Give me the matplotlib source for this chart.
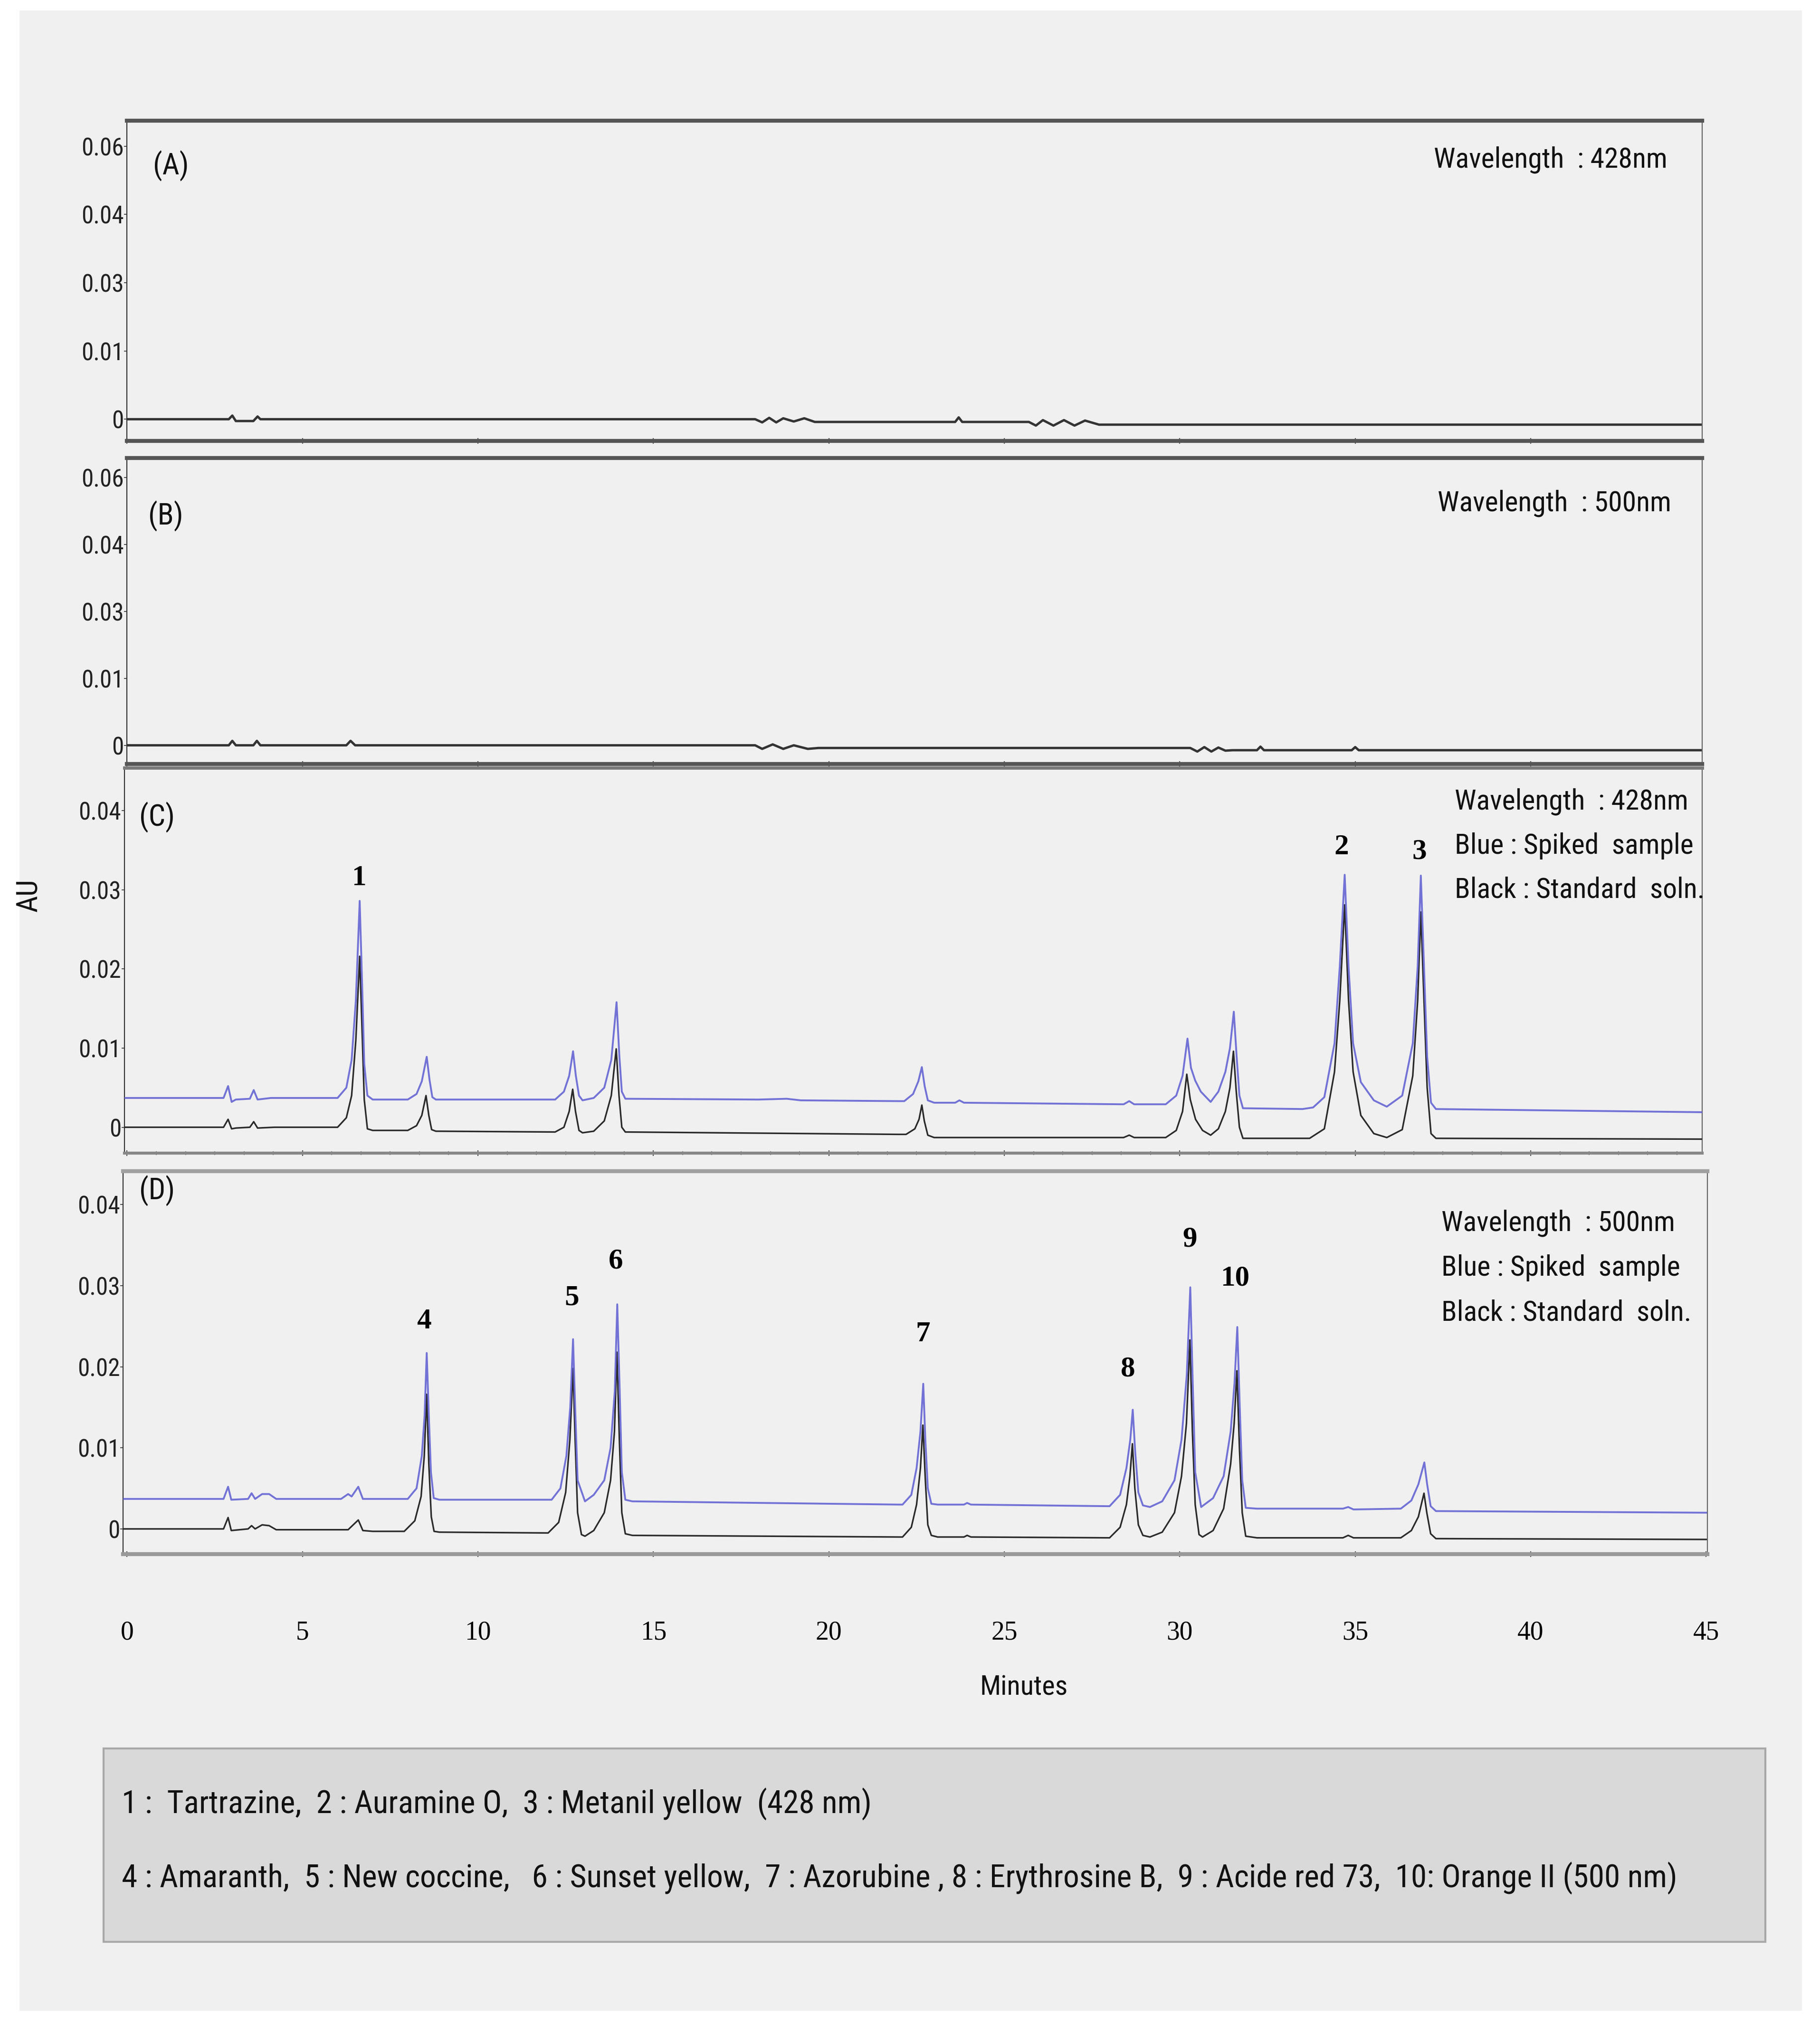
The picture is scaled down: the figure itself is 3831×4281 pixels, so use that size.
import matplotlib
matplotlib.use("Agg")
import matplotlib.pyplot as plt
from matplotlib import font_manager as fm
from matplotlib.patches import Rectangle
from matplotlib.ticker import MultipleLocator, FixedLocator, FixedFormatter

# ---------------- data ----------------
A_t = [0, 2.9, 3.0, 3.1, 3.6, 3.72, 3.8, 17.9, 18.1, 18.3, 18.5, 18.7, 19.0, 19.3, 19.6,
       23.6, 23.7, 23.8, 25.7, 25.9, 26.1, 26.4, 26.7, 27.0, 27.3, 27.7, 45]
A_au = [0, 0, 0.0008, -0.0004, -0.0004, 0.0006, 0, 0, -0.0007, 0.0003, -0.0007, 0.0002, -0.0005, 0.0002, -0.0006,
        -0.0006, 0.0004, -0.0006, -0.0006, -0.0014, -0.0002, -0.0014, -0.0002, -0.0014, -0.0003, -0.0012, -0.0012]

B_t = [0, 2.9, 3.0, 3.1, 3.6, 3.7, 3.8, 6.25, 6.37, 6.5, 17.9, 18.1, 18.4, 18.7, 19.0, 19.4, 19.7,
       30.3, 30.5, 30.7, 30.9, 31.1, 31.3, 31.5, 32.2, 32.3, 32.4, 34.9, 35.0, 35.1, 45]
B_au = [0, 0, 0.0010, 0, 0, 0.0010, 0, 0, 0.0010, 0, 0, -0.0008, 0.0002, -0.0008, 0, -0.0008, -0.0006,
        -0.0006, -0.0014, -0.0004, -0.0014, -0.0005, -0.0012, -0.0011, -0.0011, -0.0003, -0.0011, -0.0011, -0.0004, -0.0011, -0.0011]

C_blue_t = [-0.1, 2.75, 2.88, 2.98, 3.1, 3.5, 3.61, 3.72, 4.1,
            6.0, 6.25, 6.40, 6.52, 6.63, 6.70, 6.76, 6.85, 7.0,
            8.0, 8.25, 8.40, 8.54, 8.62, 8.70, 8.8,
            12.2, 12.45, 12.60, 12.71, 12.79, 12.88, 12.98,
            13.3, 13.6, 13.80, 13.95, 14.03, 14.10, 14.2,
            18.0, 18.8, 19.2, 22.0,
            22.15, 22.4, 22.55, 22.65, 22.73, 22.82, 23.0, 23.6, 23.72, 23.85, 28.4, 28.56, 28.7,
            29.6, 29.9, 30.08, 30.22, 30.32, 30.44, 30.6, 30.88, 31.1, 31.3, 31.43, 31.54, 31.62, 31.70, 31.8,
            33.5, 33.8, 34.12, 34.41, 34.56, 34.70, 34.81, 34.94, 35.16, 35.53, 35.9,
            36.34, 36.64, 36.78, 36.87, 36.96, 37.05, 37.16, 37.30, 44.9]
C_blue_au = [0.0037, 0.0037, 0.0052, 0.0032, 0.0035, 0.0036, 0.0047, 0.0035, 0.0037,
             0.0037, 0.0050, 0.0085, 0.0160, 0.0286, 0.0180, 0.0080, 0.0040, 0.0035,
             0.0035, 0.0042, 0.0058, 0.0089, 0.0060, 0.0038, 0.0035,
             0.0035, 0.0045, 0.0065, 0.0096, 0.0065, 0.0040, 0.0034,
             0.0037, 0.0050, 0.0085, 0.0158, 0.0090, 0.0045, 0.0036,
             0.0035, 0.0036, 0.0034, 0.0033,
             0.0033, 0.0042, 0.0058, 0.0076, 0.0052, 0.0034, 0.0031, 0.0031, 0.0034, 0.0031, 0.0029, 0.0033, 0.0029,
             0.0029, 0.0040, 0.0065, 0.0112, 0.0075, 0.0059, 0.0045, 0.0032, 0.0045, 0.0070, 0.0100, 0.0146, 0.0090, 0.0040, 0.0024,
             0.0023, 0.0025, 0.0038, 0.0106, 0.0203, 0.0319, 0.0203, 0.0106, 0.0057, 0.0034, 0.0026,
             0.0040, 0.0106, 0.0203, 0.0318, 0.0203, 0.0089, 0.0031, 0.0023, 0.0019]

C_black_t = [-0.1, 2.75, 2.88, 2.98, 3.1, 3.5, 3.61, 3.72, 4.2,
             6.0, 6.25, 6.40, 6.52, 6.63, 6.70, 6.76, 6.85, 7.0,
             8.0, 8.25, 8.40, 8.52, 8.60, 8.68, 8.8,
             12.2, 12.45, 12.60, 12.70, 12.78, 12.88, 12.98,
             13.3, 13.6, 13.80, 13.94, 14.02, 14.10, 14.2,
             22.0, 22.2, 22.45, 22.57, 22.65, 22.72, 22.82, 23.0, 28.4, 28.56, 28.7,
             29.6, 29.9, 30.08, 30.20, 30.30, 30.45, 30.65, 30.88, 31.1, 31.3, 31.43, 31.53, 31.61, 31.70, 31.8,
             33.7, 34.12, 34.41, 34.56, 34.70, 34.81, 34.94, 35.16, 35.53, 35.9,
             36.34, 36.64, 36.78, 36.87, 36.96, 37.05, 37.16, 37.30, 44.9]
C_black_au = [0.0, 0.0, 0.0010, -0.0002, -0.0001, 0.0, 0.0007, -0.0001, 0.0,
              0.0, 0.0012, 0.0040, 0.0110, 0.0216, 0.0120, 0.0035, -0.0002, -0.0004,
              -0.0004, 0.0002, 0.0015, 0.0040, 0.0015, -0.0003, -0.0005,
              -0.0006, 0.0000, 0.0020, 0.0048, 0.0020, -0.0004, -0.0007,
              -0.0005, 0.0008, 0.0040, 0.0099, 0.0040, 0.0000, -0.0006,
              -0.0009, -0.0009, -0.0002, 0.0010, 0.0028, 0.0008, -0.0010, -0.0013, -0.0013, -0.0010, -0.0013,
              -0.0013, -0.0004, 0.0020, 0.0067, 0.0035, 0.0010, -0.0004, -0.0010, -0.0002, 0.0020, 0.0050, 0.0096, 0.0045, 0.0000, -0.0014,
              -0.0014, -0.0002, 0.0070, 0.0160, 0.0281, 0.0160, 0.0070, 0.0015, -0.0008, -0.0013,
              -0.0003, 0.0065, 0.0160, 0.0272, 0.0160, 0.0050, -0.0008, -0.0014, -0.0015]

D_blue_t = [-0.1, 2.75, 2.88, 2.97, 3.45, 3.55, 3.65, 3.85, 4.05, 4.25, 6.1, 6.3, 6.4, 6.59, 6.72,
            8.0, 8.25, 8.40, 8.48, 8.54, 8.60, 8.66, 8.74, 8.9,
            12.1, 12.35, 12.52, 12.63, 12.71, 12.77, 12.84, 13.05,
            13.3, 13.6, 13.78, 13.90, 13.97, 14.04, 14.10, 14.20, 14.4,
            22.0, 22.1, 22.35, 22.50, 22.61, 22.69, 22.75, 22.82, 22.92, 23.1, 23.85, 23.94, 24.05,
            28.0, 28.3, 28.48, 28.59, 28.66, 28.73, 28.82, 28.95, 29.15,
            29.5, 29.85, 30.05, 30.20, 30.30, 30.37, 30.44, 30.61,
            30.95, 31.25, 31.45, 31.56, 31.64, 31.71, 31.78, 31.88, 32.2,
            34.65, 34.80, 34.95, 36.3, 36.6, 36.80, 36.97, 37.05, 37.15, 37.3, 45.0]
D_blue_au = [0.0037, 0.0037, 0.0052, 0.0036, 0.0037, 0.0044, 0.0037, 0.0043, 0.0043, 0.0037, 0.0037, 0.0043, 0.0040, 0.0052, 0.0037,
             0.0037, 0.0050, 0.0090, 0.0140, 0.0217, 0.0140, 0.0070, 0.0038, 0.0036,
             0.0036, 0.0050, 0.0090, 0.0150, 0.0234, 0.0150, 0.0060, 0.0034,
             0.0042, 0.0060, 0.0100, 0.0170, 0.0277, 0.0170, 0.0070, 0.0036, 0.0034,
             0.0030, 0.0030, 0.0042, 0.0075, 0.0120, 0.0179, 0.0110, 0.0050, 0.0031, 0.0030, 0.0030, 0.0032, 0.0030,
             0.0028, 0.0042, 0.0075, 0.0110, 0.0147, 0.0095, 0.0045, 0.0029, 0.0027,
             0.0034, 0.0060, 0.0110, 0.0190, 0.0298, 0.0180, 0.0070, 0.0027,
             0.0038, 0.0065, 0.0120, 0.0180, 0.0249, 0.0150, 0.0060, 0.0026, 0.0025,
             0.0025, 0.0027, 0.0024, 0.0025, 0.0035, 0.0055, 0.0082, 0.0055, 0.0028, 0.0022, 0.0020]

D_black_t = [-0.1, 2.75, 2.88, 2.97, 3.45, 3.55, 3.65, 3.85, 4.05, 4.25, 6.3, 6.59, 6.72, 7.0,
             7.9, 8.2, 8.38, 8.47, 8.54, 8.60, 8.67, 8.75, 8.9,
             12.0, 12.3, 12.5, 12.62, 12.71, 12.77, 12.84, 12.95, 13.05,
             13.3, 13.6, 13.78, 13.89, 13.96, 14.03, 14.10, 14.2, 14.4,
             22.0, 22.1, 22.35, 22.50, 22.61, 22.68, 22.75, 22.82, 22.92, 23.1, 23.85, 23.94, 24.05,
             28.0, 28.3, 28.48, 28.58, 28.65, 28.72, 28.82, 28.95, 29.15,
             29.5, 29.85, 30.05, 30.19, 30.29, 30.36, 30.44, 30.55, 30.65,
             30.95, 31.25, 31.45, 31.55, 31.63, 31.70, 31.78, 31.88, 32.2,
             34.65, 34.80, 34.95, 36.3, 36.6, 36.80, 36.96, 37.04, 37.15, 37.3, 45.0]
D_black_au = [0.0, 0.0, 0.0014, -0.0002, 0.0, 0.0004, 0.0, 0.0005, 0.0004, -0.0001, -0.0001, 0.0011, -0.0002, -0.0003,
              -0.0003, 0.0010, 0.0040, 0.0090, 0.0166, 0.0080, 0.0015, -0.0003, -0.0004,
              -0.0005, 0.0008, 0.0045, 0.0110, 0.0198, 0.0110, 0.0020, -0.0007, -0.0009,
              -0.0002, 0.0020, 0.0060, 0.0120, 0.0218, 0.0110, 0.0020, -0.0006, -0.0008,
              -0.0010, -0.0010, 0.0002, 0.0030, 0.0075, 0.0128, 0.0060, 0.0005, -0.0008, -0.0010, -0.0010, -0.0008, -0.0010,
              -0.0011, 0.0002, 0.0030, 0.0065, 0.0105, 0.0050, 0.0005, -0.0008, -0.0010,
              -0.0004, 0.0020, 0.0065, 0.0130, 0.0233, 0.0120, 0.0030, -0.0007, -0.0010,
              -0.0002, 0.0025, 0.0080, 0.0130, 0.0195, 0.0100, 0.0020, -0.0009, -0.0011,
              -0.0011, -0.0008, -0.0011, -0.0011, -0.0002, 0.0015, 0.0044, 0.0020, -0.0006, -0.0012, -0.0013]

C_peak_labels = ["1", "2", "3"]
C_peak_t = [6.61, 34.61, 36.83]
C_peak_y = [0.0315, 0.0354, 0.0348]
D_peak_labels = ["4", "5", "6", "7", "8", "9", "10"]
D_peak_t = [8.46, 12.67, 13.93, 22.68, 28.52, 30.29, 31.58]
D_peak_y = [0.0256, 0.0285, 0.0330, 0.0240, 0.0197, 0.0357, 0.0309]

AB_yticks = [0, 0.015, 0.03, 0.045, 0.06]
AB_ylabels = ["0", "0.01", "0.03", "0.04", "0.06"]
CD_yticks = [0, 0.01, 0.02, 0.03, 0.04]
CD_ylabels = ["0", "0.01", "0.02", "0.03", "0.04"]
x_ticks = [0, 5, 10, 15, 20, 25, 30, 35, 40, 45]

legend_line1 = "1 :  Tartrazine,  2 : Auramine O,  3 : Metanil yellow  (428 nm)"
legend_line2 = ("4 : Amaranth,  5 : New coccine,   6 : Sunset yellow,  7 : Azorubine , 8 : Erythrosine B,  "
                "9 : Acide red 73,  10: Orange II (500 nm)")

# ---------------- fonts ----------------
def find_font(keys, exclude=("bold", "italic", "oblique")):
    files = [f.fname for f in fm.fontManager.ttflist]
    for k in keys:
        for fn in files:
            low = fn.lower().replace(" ", "").replace("_", "").replace("-", "")
            if k in low and not any(e in low for e in exclude):
                return fn
    return None

NARROW_FILE = find_font(["liberationsansnarrow", "robotocondensed", "dejavusanscondensed",
                         "opensanscondensed", "notosanscondensed", "condensed", "narrow"])
SERIF_FILE = find_font(["liberationserifregular", "liberationserif"])
SERIF_BOLD_FILE = find_font(["liberationserifbold"], exclude=("italic", "oblique"))


def nprop(size):
    if NARROW_FILE:
        return fm.FontProperties(fname=NARROW_FILE, size=size)
    return fm.FontProperties(family="Liberation Sans", size=size)


def sprop(size, bold=False):
    f = SERIF_BOLD_FILE if bold else SERIF_FILE
    if f:
        return fm.FontProperties(fname=f, size=size)
    return fm.FontProperties(family="DejaVu Serif", size=size, weight="bold" if bold else "normal")


# ---------------- layout helpers (reference measured on a 1404 x 1568 grid) ----------------
W, H = 1404.0, 1568.0
def fx(x):
    return x / W
def fy(y):
    return 1 - y / H

fig = plt.figure(figsize=(38.31, 42.81), dpi=100, facecolor="white")
fig.patches.append(Rectangle((fx(15), fy(1550)), fx(1390) - fx(15), fy(8) - fy(1550),
                             transform=fig.transFigure, facecolor="#f0f0f0", edgecolor="none", zorder=-10))

BLUE = "#6464d4"
BLACK = "#2a2a2a"
PXMIN = 27.07
X0 = 98.0


def make_axes(x1, y1, x2, y2, ylo, yhi):
    ax = fig.add_axes([fx(x1), fy(y2), fx(x2) - fx(x1), fy(y1) - fy(y2)])
    ax.set_facecolor("#f0f0f0")
    ax.set_xlim((x1 - X0) / PXMIN, (x2 - X0) / PXMIN)
    ax.set_ylim(ylo, yhi)
    ax.xaxis.set_major_locator(MultipleLocator(5))
    ax.xaxis.set_minor_locator(MultipleLocator(5 / 6))
    ax.tick_params(axis="x", which="major", direction="inout", length=9, width=1.6, color="#555555",
                   labelbottom=False)
    ax.tick_params(axis="x", which="minor", direction="inout", length=6, width=1.2, color="#666666")
    ax.tick_params(axis="y", which="major", direction="out", length=4, width=1.2, color="#333333", pad=1)
    return ax


def style_spines(ax, top_lw, top_c, bot_lw, bot_c):
    ax.spines["top"].set_linewidth(top_lw)
    ax.spines["top"].set_color(top_c)
    ax.spines["bottom"].set_linewidth(bot_lw)
    ax.spines["bottom"].set_color(bot_c)
    ax.spines["left"].set_linewidth(1.6)
    ax.spines["left"].set_color("#333333")
    ax.spines["right"].set_linewidth(1.6)
    ax.spines["right"].set_color("#666666")


def set_yticks(ax, ticks, labels):
    ax.yaxis.set_major_locator(FixedLocator(ticks))
    ax.yaxis.set_major_formatter(FixedFormatter(labels))
    for lab in ax.get_yticklabels():
        lab.set_fontproperties(nprop(37))
        lab.set_color("#222222")


axA = make_axes(98, 93, 1313, 340, -0.0048, 0.0656)
axA.plot(A_t, A_au, color="#333333", lw=3.6)
set_yticks(axA, AB_yticks, AB_ylabels)
style_spines(axA, 6, "#555555", 6, "#555555")

axB = make_axes(98, 353, 1313, 589, -0.0042, 0.0644)
axB.plot(B_t, B_au, color="#333333", lw=3.6)
set_yticks(axB, AB_yticks, AB_ylabels)
style_spines(axB, 6, "#555555", 6, "#555555")

axC = make_axes(96, 592, 1313, 889, -0.00328, 0.0454)
axC.plot(C_black_t, C_black_au, color=BLACK, lw=2.4, zorder=3)
axC.plot(C_blue_t, C_blue_au, color=BLUE, lw=2.8, zorder=4, alpha=0.9)
set_yticks(axC, CD_yticks, CD_ylabels)
style_spines(axC, 5, "#7a7a7a", 4.5, "#888888")
for lab, t, y in zip(C_peak_labels, C_peak_t, C_peak_y):
    axC.text(t, y, lab, ha="center", va="center", fontproperties=sprop(44, bold=True))

axD = make_axes(95, 903, 1317, 1198, -0.0031, 0.0441)
axD.plot(D_black_t, D_black_au, color=BLACK, lw=2.4, zorder=3)
axD.plot(D_blue_t, D_blue_au, color=BLUE, lw=2.8, zorder=4, alpha=0.9)
set_yticks(axD, CD_yticks, CD_ylabels)
style_spines(axD, 6, "#a0a0a0", 6, "#999999")
for lab, t, y in zip(D_peak_labels, D_peak_t, D_peak_y):
    axD.text(t, y, lab, ha="center", va="center", fontproperties=sprop(44, bold=True))

axD.xaxis.set_major_locator(FixedLocator(x_ticks))
axD.tick_params(axis="x", which="major", labelbottom=True, pad=96)
for lab in axD.get_xticklabels():
    lab.set_fontproperties(sprop(40))

# panel texts
def ftext(x, y, s, size=43, **kw):
    fig.text(fx(x), fy(y), s, fontproperties=nprop(size), color="#111111", **kw)

ftext(132, 128, "(A)", size=45, ha="center", va="center")
ftext(128, 398, "(B)", size=45, ha="center", va="center")
ftext(121, 630, "(C)", size=45, ha="center", va="center")
ftext(121, 918, "(D)", size=45, ha="center", va="center")

ftext(1106, 123, "Wavelength  : 428nm", ha="left", va="center")
ftext(1109, 388, "Wavelength  : 500nm", ha="left", va="center")
for i, s in enumerate(["Wavelength  : 428nm", "Blue : Spiked  sample", "Black : Standard  soln."]):
    ftext(1122, 618 + 34 * i, s, ha="left", va="center")
for i, s in enumerate(["Wavelength  : 500nm", "Blue : Spiked  sample", "Black : Standard  soln."]):
    ftext(1112, 943 + 34.5 * i, s, ha="left", va="center")

ftext(790, 1301, "Minutes", size=42, ha="center", va="center")
ftext(22, 690, "AU", size=44, ha="center", va="center", rotation=90)

fig.patches.append(Rectangle((fx(80), fy(1497)), fx(1362) - fx(80), fy(1348) - fy(1497),
                             transform=fig.transFigure, facecolor="#d9d9d9", edgecolor="#a8a8a8",
                             linewidth=3, zorder=1))
fig.text(fx(94), fy(1391), legend_line1, ha="left", va="center", fontproperties=nprop(48.5),
         color="#111111", zorder=2)
fig.text(fx(94), fy(1448), legend_line2, ha="left", va="center", fontproperties=nprop(48.5),
         color="#111111", zorder=2)

fig.savefig("out.png", dpi=100, facecolor="white")
